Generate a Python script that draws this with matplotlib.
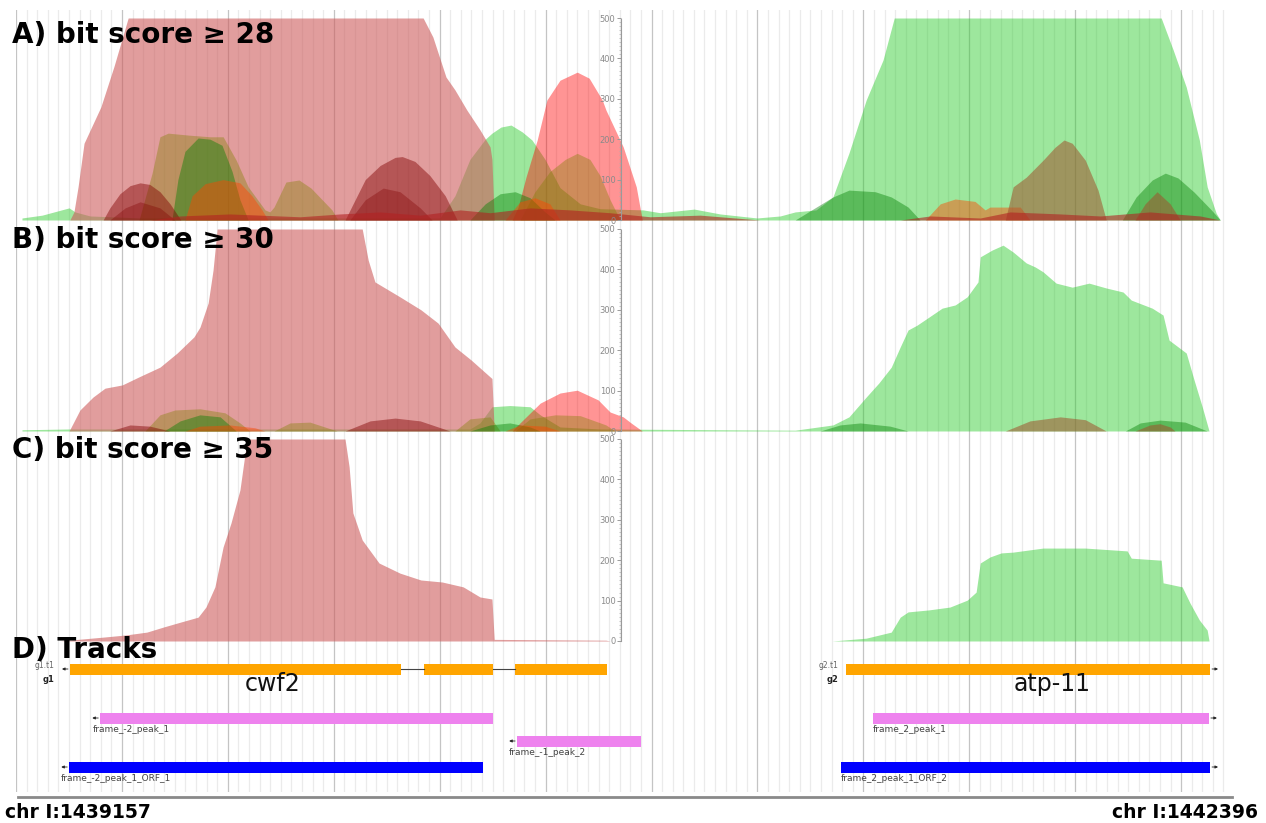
import numpy as np
import matplotlib.pyplot as plt
from matplotlib.lines import Line2D
from matplotlib.ticker import MultipleLocator

W, H = 1266, 823
START, END = 1439157, 1442396
SPAN = END - START  # window width in bp; positions below are bp offsets from START

# ---------------- A) bit score >= 28 ----------------
a_green_pos = [16, 70, 142, 158, 198, 332, 1134, 1174, 1214, 1255, 1273, 1297, 1324, 1354, 1380, 1415, 1455, 1509, 1562, 1677,
               1723, 1814, 1883, 1982, 2044, 2084, 2140, 2185, 2228, 2274, 2319, 2349, 3063, 3095, 3130, 3165, 3186, 3210, 3221]
a_green_val = [5, 12, 30, 20, 10, 5, 5, 60, 150, 200, 215, 230, 235, 218, 198, 150, 80, 40, 28, 25,
               18, 27, 15, 5, 10, 20, 25, 57, 166, 297, 396, 500, 500, 421, 329, 198, 82, 17, 0]
a_pink_pos = [144, 155, 166, 182, 227, 262, 300, 1089, 1115, 1150, 1174, 1206, 1241, 1268, 1273, 1279]
a_pink_val = [0, 20, 82, 190, 280, 380, 500, 500, 453, 354, 322, 272, 223, 181, 150, 0]
a_red_pos = [1327, 1343, 1364, 1394, 1420, 1455, 1501, 1533, 1568, 1578, 1624, 1659, 1675]
a_red_val = [0, 32, 106, 198, 297, 346, 366, 351, 297, 272, 181, 82, 0]
a_olive_pos = [329, 364, 385, 407, 463, 519, 554, 589, 621, 666, 679, 690, 722, 757, 789, 845, 861,
               1348, 1388, 1428, 1469, 1501, 1535, 1562, 1589, 1616]
a_olive_val = [0, 116, 206, 215, 210, 206, 206, 148, 82, 25, 20, 32, 94, 99, 79, 25, 0,
               0, 70, 120, 150, 165, 150, 110, 50, 0]
a_dkgreen_pos = [417, 433, 452, 487, 519, 551, 578, 599, 621, 1214, 1255, 1295, 1335, 1375, 1415, 1442,
                 2084, 2137, 2185, 2228, 2298, 2341, 2386, 2418, 2959, 2996, 3039, 3074, 3108, 3151, 3197, 3221]
a_dkgreen_val = [0, 100, 170, 203, 200, 185, 120, 50, 0, 0, 40, 65, 70, 55, 20, 0,
                 0, 30, 57, 74, 70, 57, 32, 0, 0, 57, 99, 116, 104, 69, 25, 0]
a_maroon_pos = [233, 251, 278, 305, 332, 358, 385, 412, 441, 880, 907, 934, 974, 1014, 1033, 1067, 1107, 1148, 1180]
a_maroon_val = [0, 30, 65, 85, 92, 88, 70, 40, 0, 0, 50, 100, 135, 155, 157, 145, 110, 60, 0]
a_maroon2_pos = [251, 292, 332, 385, 425, 893, 934, 982, 1027, 1081, 1113]
a_maroon2_val = [0, 30, 45, 30, 0, 0, 50, 79, 70, 30, 0]
a_orange_pos = [452, 471, 506, 554, 599, 631, 658, 674, 1308, 1348, 1388, 1428, 1455,
                2432, 2472, 2512, 2565, 2592, 2605, 2686, 2712]
a_orange_val = [0, 60, 90, 100, 92, 60, 25, 0, 0, 45, 55, 40, 0, 0, 40, 52, 46, 25, 32, 32, 0]
a_brown_pos = [2646, 2667, 2702, 2747, 2779, 2803, 2825, 2860, 2894, 2916, 2993, 3020, 3052, 3087, 3114]
a_brown_val = [0, 82, 106, 148, 180, 198, 190, 148, 74, 0, 0, 40, 70, 40, 0]
a_low_pos = [358, 439, 572, 760, 867, 974, 1081, 1188, 1268, 1375, 1482, 1589, 1696, 1830, 1990,
             2365, 2445, 2579, 2659, 2793, 2900, 3033, 3167, 3221]
a_low_val = [0, 10, 15, 8, 15, 20, 12, 25, 18, 30, 25, 18, 8, 12, 0, 0, 10, 5, 20, 15, 10, 20, 10, 0]

# ---------------- B) bit score >= 30 ----------------
b_green_pos = [16, 142, 1214, 1241, 1273, 1321, 1375, 1402, 1455, 1562,
               2084, 2185, 2228, 2274, 2308, 2341, 2365, 2386, 2410, 2442, 2477, 2512, 2544, 2573, 2579, 2611, 2640,
               2667, 2702, 2726, 2747, 2782, 2825, 2870, 2916, 2961, 2983, 3039, 3068, 3084, 3130, 3151, 3173, 3191]
b_green_val = [3, 5, 5, 20, 60, 63, 60, 40, 10, 5,
               2, 15, 35, 84, 119, 158, 208, 250, 262, 282, 304, 312, 332, 369, 431, 448, 460,
               443, 416, 406, 394, 366, 356, 366, 354, 344, 324, 304, 287, 225, 193, 126, 59, 0]
b_pink_pos = [142, 171, 206, 238, 284, 329, 385, 431, 476, 492, 514, 527, 538, 926, 942, 960, 1027, 1083,
              1129, 1174, 1217, 1268, 1273, 1279]
b_pink_val = [0, 52, 84, 106, 114, 134, 158, 193, 233, 257, 317, 398, 500, 500, 423, 369, 332, 300,
              267, 208, 176, 134, 130, 0]
b_red_pos = [1327, 1348, 1402, 1455, 1501, 1557, 1589, 1624, 1645, 1675]
b_red_val = [0, 20, 69, 94, 101, 77, 47, 35, 20, 0]
b_olive_pos = [345, 385, 425, 492, 559, 599, 626, 690, 733, 786, 859, 1174, 1214, 1268, 1295,
               1335, 1375, 1442, 1509, 1578, 1602]
b_olive_val = [0, 40, 52, 55, 45, 20, 0, 0, 20, 22, 0, 0, 30, 35, 0, 0, 30, 40, 38, 15, 0]
b_dkgreen_pos = [396, 439, 492, 546, 589, 1214, 1268, 1321, 1375, 1402, 2151, 2204, 2258, 2338, 2386,
                 2967, 3007, 3060, 3127, 3186]
b_dkgreen_val = [0, 25, 40, 35, 0, 0, 15, 20, 10, 0, 0, 15, 20, 12, 0, 0, 20, 27, 22, 0]
b_maroon_pos = [251, 305, 358, 412, 880, 947, 1014, 1081, 1161]
b_maroon_val = [0, 15, 12, 0, 0, 25, 32, 25, 0]
b_orange_pos = [452, 492, 572, 639, 666, 1308, 1348, 1415, 1455]
b_orange_val = [0, 12, 15, 8, 0, 0, 15, 12, 0]
b_brown_pos = [2646, 2712, 2793, 2860, 2916, 2993, 3033, 3060, 3087, 3100]
b_brown_val = [0, 25, 35, 28, 0, 0, 15, 18, 10, 0]

# ---------------- C) bit score >= 35 ----------------
c_pink_pos = [118, 142, 238, 294, 350, 396, 441, 487, 508, 532, 554, 575, 599, 618, 880, 891, 901, 926,
              971, 1027, 1083, 1140, 1196, 1241, 1273, 1279, 1578, 1589]
c_pink_val = [0, 2, 10, 15, 22, 35, 47, 59, 84, 134, 233, 292, 374, 500, 500, 431, 317, 250,
              193, 168, 151, 146, 134, 109, 104, 4, 2, 0]
c_green_pos = [2183, 2274, 2341, 2365, 2386, 2442, 2498, 2544, 2568, 2579, 2605, 2635, 2667, 2747, 2860,
               2972, 2983, 3063, 3068, 3119, 3140, 3165, 3186, 3191]
c_green_val = [0, 7, 22, 59, 72, 77, 84, 101, 121, 193, 208, 218, 220, 230, 230,
               223, 205, 200, 144, 134, 94, 52, 27, 0]

# ---------------- D) tracks ----------------
gene_ids = ['g1', 'g2']
transcript_ids = ['g1.t1', 'g2.t1']
gene_symbols = ['cwf2', 'atp-11']
gene_symbol_pos = [687, 2771]
gene_strands = ['-', '+']
gene_exon_starts = [[144, 1091, 1335], [2220]]
gene_exon_ends = [[1030, 1276, 1581], [3194]]

feature_names = ['frame_-2_peak_1', 'frame_-1_peak_2', 'frame_2_peak_1',
                 'frame_-2_peak_1_ORF_1', 'frame_2_peak_1_ORF_2']
feature_starts = [225, 1340, 2292, 142, 2207]
feature_ends = [1276, 1672, 3191, 1249, 3194]
feature_strands = ['-', '-', '+', '-', '+']

PINK, GREEN, RED = '#cd5c5c', '#32cd32', '#ff0000'
OLIVE, DKGREEN, MAROON = '#808000', '#008000', '#800000'
ORANGE, BROWN, LOW = '#ff4500', '#a0522d', '#b22222'

fig = plt.figure(figsize=(W / 100, H / 100), dpi=100)


def rect(x0, y0, x1, y1):
    return [x0 / W, 1 - y1 / H, (x1 - x0) / W, (y1 - y0) / H]


# background grid
gax = fig.add_axes(rect(16, 10, 1227, 792))
gax.set_xlim(0, SPAN)
gax.set_ylim(0, 1)
gax.axis('off')
for i, gx in enumerate(np.arange(0, SPAN, 28.33)):
    major = i % 10 == 0
    gax.axvline(gx, color='#c4c4c4' if major else '#ebebeb', lw=0.9)

panels = [
    ('A) bit score ≥ 28', 18, 220, 43, [
        (a_green_pos, a_green_val, GREEN, 0.48),
        (a_pink_pos, a_pink_val, PINK, 0.6),
        (a_red_pos, a_red_val, RED, 0.42),
        (a_olive_pos, a_olive_val, OLIVE, 0.38),
        (a_dkgreen_pos, a_dkgreen_val, DKGREEN, 0.42),
        (a_maroon_pos, a_maroon_val, MAROON, 0.45),
        (a_maroon2_pos, a_maroon2_val, MAROON, 0.35),
        (a_orange_pos, a_orange_val, ORANGE, 0.45),
        (a_brown_pos, a_brown_val, BROWN, 0.55),
        (a_low_pos, a_low_val, LOW, 0.6)]),
    ('B) bit score ≥ 30', 229, 431, 248, [
        (b_green_pos, b_green_val, GREEN, 0.48),
        (b_pink_pos, b_pink_val, PINK, 0.6),
        (b_red_pos, b_red_val, RED, 0.42),
        (b_olive_pos, b_olive_val, OLIVE, 0.38),
        (b_dkgreen_pos, b_dkgreen_val, DKGREEN, 0.42),
        (b_maroon_pos, b_maroon_val, MAROON, 0.45),
        (b_orange_pos, b_orange_val, ORANGE, 0.45),
        (b_brown_pos, b_brown_val, BROWN, 0.55)]),
    ('C) bit score ≥ 35', 439, 641, 458, [
        (c_green_pos, c_green_val, GREEN, 0.48),
        (c_pink_pos, c_pink_val, PINK, 0.6)]),
]

AXIS_POS = 1618  # where the y scale sits, bp offset

for title, top, bottom, base, series in panels:
    ax = fig.add_axes(rect(16, top, 1227, bottom))
    ax.set_xlim(0, SPAN)
    ax.set_ylim(0, 500)
    ax.patch.set_alpha(0)
    for pos, val, col, alpha in series:
        ax.fill_between(pos, 0, val, color=col, alpha=alpha, lw=0)
    for s in ['top', 'right', 'bottom']:
        ax.spines[s].set_visible(False)
    ax.spines['left'].set_position(('data', AXIS_POS))
    ax.spines['left'].set_color('#9a9a9a')
    ax.spines['left'].set_linestyle((0, (1, 1)))
    ax.set_xticks([])
    ax.set_yticks([0, 100, 200, 300, 400, 500])
    ax.yaxis.set_minor_locator(MultipleLocator(10))
    ax.tick_params(axis='y', which='major', labelsize=6, labelcolor='#8a8a8a', color='#9a9a9a',
                   length=3, width=0.7, pad=1)
    ax.tick_params(axis='y', which='minor', color='#b0b0b0', length=1.5, width=0.5)
    fig.text(12 / W, 1 - base / H, title, fontsize=20, fontweight='bold', va='baseline',
             family=['DejaVu Sans'])

fig.text(12 / W, 1 - 658 / H, 'D) Tracks', fontsize=20, fontweight='bold', va='baseline',
         family=['DejaVu Sans'])

# tracks
tax = fig.add_axes(rect(16, 650, 1227, 797))
tax.set_xlim(0, SPAN)
tax.set_ylim(797, 650)
tax.axis('off')

BAR_H = 11
ARROW_GAP, ARROW_LEN = 5, 16


def strand_arrow(x_start, x_end, y, strand):
    if strand == '-':
        tail, tip = x_start - ARROW_GAP, x_start - ARROW_GAP - ARROW_LEN
    else:
        tail, tip = x_end + ARROW_GAP, x_end + ARROW_GAP + ARROW_LEN
    tax.annotate('', xy=(tip, y), xytext=(tail, y),
                 arrowprops=dict(arrowstyle='-|>', lw=0.6, color='#222222', mutation_scale=4,
                                 shrinkA=0, shrinkB=0))
    return tip


gene_row = 669
for gid, tid, sym, sx, strand, starts, ends in zip(gene_ids, transcript_ids, gene_symbols, gene_symbol_pos,
                                                   gene_strands, gene_exon_starts, gene_exon_ends):
    for e0, s1 in zip(ends[:-1], starts[1:]):
        tax.plot([e0, s1], [gene_row, gene_row], color='#444444', lw=0.8)
    for s, e in zip(starts, ends):
        tax.barh(gene_row, e - s, left=s, height=BAR_H, color='#ffa500', lw=0)
    tip = strand_arrow(starts[0], ends[-1], gene_row, strand)
    left_edge = tip if strand == '-' else starts[0]
    tax.text(left_edge - 20, 666, tid, fontsize=5.5, color='#666666', ha='right', va='center')
    tax.text(left_edge - 20, 679, gid, fontsize=6, color='#222222', ha='right', va='center',
             fontweight='bold')
    tax.text(sx, 684, sym, fontsize=17, color='#111111', ha='center', va='center',
             family=['DejaVu Sans'])

feature_rows = [718, 741, 718, 767, 767]
for name, s, e, strand, row in zip(feature_names, feature_starts, feature_ends, feature_strands, feature_rows):
    col = '#0000ff' if 'ORF' in name else '#ee82ee'
    tax.barh(row, e - s, left=s, height=BAR_H, color=col, lw=0)
    tip = strand_arrow(s, e, row, strand)
    lx = tip if strand == '-' else s
    tax.text(lx, row + 11.5, name, fontsize=6.5, color='#444444', ha='left', va='center')

fig.add_artist(Line2D([18 / W, 1232 / W], [1 - 797 / H, 1 - 797 / H], color='#8a8a8a', lw=2))
fig.text(5 / W, 1 - 818 / H, f'chr I:{START}', fontsize=13.5, fontweight='bold', va='baseline')
fig.text(1258 / W, 1 - 818 / H, f'chr I:{END}', fontsize=13.5, fontweight='bold', va='baseline', ha='right')

fig.savefig('out.png', dpi=100)
